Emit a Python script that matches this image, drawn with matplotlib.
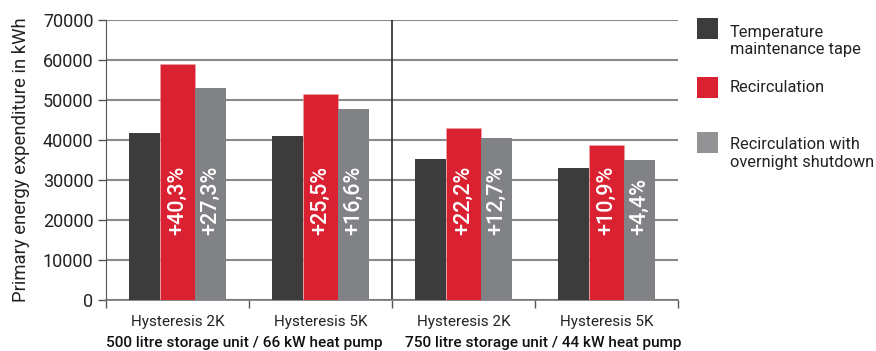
import matplotlib
matplotlib.use("Agg")
import matplotlib.pyplot as plt
import numpy as np
from matplotlib.patches import Rectangle

plt.rcParams['font.family'] = ['Roboto', 'DejaVu Sans']

# Data
categories = ["Hysteresis 2K", "Hysteresis 5K", "Hysteresis 2K", "Hysteresis 5K"]
groups = ["500 litre storage unit / 66 kW heat pump",
          "750 litre storage unit / 44 kW heat pump"]
series_names = ["Temperature\nmaintenance tape", "Recirculation",
                "Recirculation with\novernight shutdown"]
tape = [41800, 41000, 35300, 33000]
recirc = [59100, 51400, 43000, 38700]
recirc_night = [52900, 47700, 40500, 35000]
recirc_pct = ["+40,3%", "+25,5%", "+22,2%", "+10,9%"]
night_pct = ["+27,3%", "+16,6%", "+12,7%", "+4,4%"]

colors = ["#3c3c3c", "#da2131", "#818286"]
legend_colors = ["#3c3c3c", "#da2131", "#939396"]
widths = [0.215, 0.245, 0.215]

fig = plt.figure(figsize=(8.76, 3.51), dpi=100)
ax = fig.add_axes([106 / 876, 1 - 300 / 351, (678 - 106) / 876, 280 / 351])

x = np.arange(len(categories))
total = sum(widths)
left = x - total / 2
b1 = ax.bar(left + widths[0] / 2, tape, widths[0], color=colors[0], zorder=3)
b2 = ax.bar(left + widths[0] + widths[1] / 2, recirc, widths[1], color=colors[1],
            edgecolor="#f0a0a8", linewidth=0.4, zorder=3)
b3 = ax.bar(left + widths[0] + widths[1] + widths[2] / 2, recirc_night, widths[2],
            color=colors[2], zorder=3)

# Percentage labels inside the bars
label_y = 16250
for bars, labels in ((b2, recirc_pct), (b3, night_pct)):
    for rect, lab in zip(bars, labels):
        ax.text(rect.get_x() + rect.get_width() / 2, label_y, lab, rotation=90,
                ha="center", va="bottom", color="white", fontsize=15.5,
                fontweight="medium", zorder=4)

ax.set_xlim(-0.5, 3.5)
ax.set_ylim(0, 70000)
ax.set_yticks(np.arange(0, 70001, 10000))
ax.tick_params(axis="y", labelsize=13, length=6, width=1, color="#555555",
               colors="#222222", pad=3)
ax.yaxis.grid(True, color="#8a8a8a", linewidth=1.5, zorder=1)
ax.set_ylabel("Primary energy expenditure in kWh", fontsize=13.3, color="#222222",
              labelpad=9)

ax.set_xticks(x)
ax.set_xticklabels(categories, fontsize=11, color="#222222")
ax.set_xticks(np.arange(-0.5, 3.6, 1), minor=True)
ax.tick_params(axis="x", which="major", length=0, pad=11)
ax.tick_params(axis="x", which="minor", length=6, width=1, color="#555555")

for s in ("top", "right"):
    ax.spines[s].set_visible(False)
ax.spines["left"].set_color("#555555")
ax.spines["bottom"].set_color("#777777")
ax.spines["bottom"].set_linewidth(1.2)

# Separator between the two system configurations
ax.axvline(1.5, color="#2a2a2a", linewidth=1.2, zorder=2)

# Group labels
for gx, g in zip((0.465, 2.555), groups):
    ax.text(gx, -0.152, g, transform=ax.get_xaxis_transform(), ha="center",
            va="center", fontsize=11.1, fontweight="medium", color="#111111")

# Legend: swatch centres and text centres (pixels from top)
swatch_y = [28.5, 87, 142.5]
text_y = [41, 88, 153.5]
for ys, yt, c, name in zip(swatch_y, text_y, legend_colors, series_names):
    fig.patches.append(Rectangle((697 / 876, 1 - (ys + 10.5) / 351), 21 / 876, 21 / 351,
                                 transform=fig.transFigure, facecolor=c,
                                 edgecolor="none"))
    fig.text(730 / 876, 1 - yt / 351, name, ha="left", va="center",
             fontsize=11.8, color="#222222", linespacing=1.2)

fig.savefig("out.png", dpi=100)
